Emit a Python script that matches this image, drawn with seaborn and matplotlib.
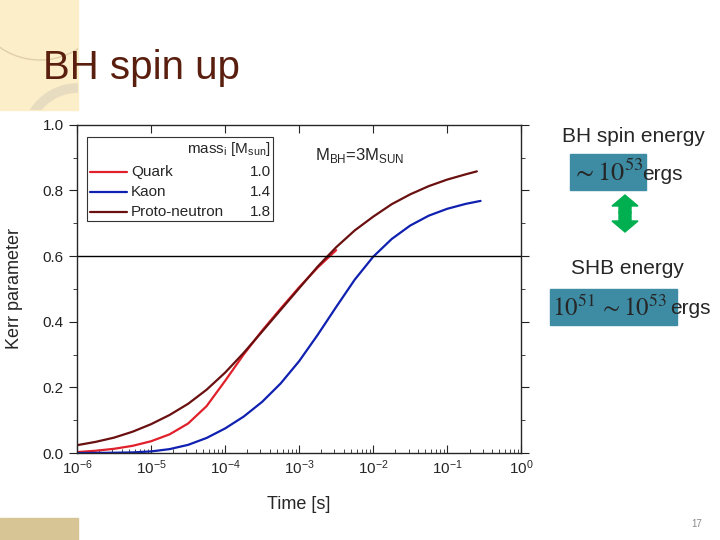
import numpy as np
import pandas as pd
import matplotlib
matplotlib.use("Agg")
import matplotlib.pyplot as plt
import seaborn as sns
from matplotlib.patches import Rectangle, FancyArrow, Circle

# spin-up curves (log10 of time in s, Kerr parameter)
logt_pn = [-6.0, -5.75, -5.5, -5.25, -5.0, -4.75, -4.5, -4.25, -4.0, -3.75, -3.5, -3.25,
           -3.0, -2.75, -2.5, -2.25, -2.0, -1.75, -1.5, -1.25, -1.0, -0.75, -0.6]
kerr_pn = [0.024, 0.034, 0.047, 0.065, 0.088, 0.116, 0.150, 0.193, 0.245, 0.305, 0.370, 0.436,
           0.502, 0.568, 0.627, 0.678, 0.720, 0.758, 0.788, 0.813, 0.833, 0.849, 0.858]

logt_quark = [-6.0, -5.75, -5.5, -5.25, -5.0, -4.75, -4.5, -4.25, -4.0, -3.75, -3.5, -3.25,
              -3.0, -2.75, -2.5]
kerr_quark = [0.003, 0.007, 0.013, 0.022, 0.036, 0.057, 0.090, 0.143, 0.220, 0.300, 0.373, 0.440,
              0.505, 0.565, 0.618]

logt_kaon = [-6.0, -5.5, -5.25, -5.0, -4.75, -4.5, -4.25, -4.0, -3.75, -3.5, -3.25, -3.0,
             -2.75, -2.5, -2.25, -2.0, -1.75, -1.5, -1.25, -1.0, -0.75, -0.55]
kerr_kaon = [0.000, 0.001, 0.002, 0.005, 0.012, 0.025, 0.046, 0.075, 0.111, 0.156, 0.212, 0.280,
             0.360, 0.445, 0.528, 0.598, 0.652, 0.693, 0.723, 0.744, 0.759, 0.768]

models = ["Quark", "Kaon", "Proto-neutron"]
masses = ["1.0", "1.4", "1.8"]
colors = ["#e0202a", "#1020b0", "#6a1010"]

rows = []
for name, lt, k in [("Quark", logt_quark, kerr_quark), ("Kaon", logt_kaon, kerr_kaon),
                    ("Proto-neutron", logt_pn, kerr_pn)]:
    for a, b in zip(lt, k):
        rows.append({"model": name, "time": 10 ** a, "kerr": b})
df = pd.DataFrame(rows)

sns.set_style("ticks")
plt.rcParams['font.family'] = ['Liberation Sans', 'DejaVu Sans']

fig = plt.figure(figsize=(7.2, 5.4), dpi=100)

# slide decoration
deco = fig.add_axes([0, 0, 1, 1], zorder=-5)
deco.set_xlim(0, 720)
deco.set_ylim(540, 0)
deco.axis("off")
bg = Rectangle((0, 0), 78, 110, color="#fbeec8")
deco.add_patch(bg)
c1 = Circle((78, 140), 52, fill=False, lw=7, ec="#e8dcc0")
c2 = Circle((40, -10), 70, fill=False, lw=1, ec="#e0cfa8")
for c in (c1, c2):
    deco.add_patch(c)
    c.set_clip_path(bg)
deco.add_patch(Rectangle((0, 518), 78, 22, color="#d8c596"))
deco.text(43, 68, "BH spin up", fontsize=29, color="#5a1e0e", va="center", ha="left")
deco.text(697, 524, "17", fontsize=7, color="#888888", ha="center", va="center")

# right-hand notes
deco.text(633, 137, "BH spin energy", fontsize=15, ha="center", va="center")
deco.add_patch(Rectangle((570, 154), 76, 36, color="#3e8ca4"))
deco.text(572, 173, r"$\sim 10^{53}$", fontsize=19, math_fontfamily="stix",
          ha="left", va="center")
deco.text(642, 174, "ergs", fontsize=15, ha="left", va="center")
deco.add_patch(FancyArrow(625, 213, 0, -18, width=12, head_width=26, head_length=11,
                          length_includes_head=True, color="#00b050"))
deco.add_patch(FancyArrow(625, 212, 0, 20, width=12, head_width=26, head_length=11,
                          length_includes_head=True, color="#00b050"))
deco.text(627, 269, "SHB energy", fontsize=15, ha="center", va="center")
deco.add_patch(Rectangle((550, 289), 127, 36, color="#3e8ca4"))
deco.text(552, 308, r"$10^{51}\,\sim 10^{53}$", fontsize=18, math_fontfamily="stix",
          ha="left", va="center")
deco.text(670, 309, "ergs", fontsize=15, ha="left", va="center")

ax = fig.add_axes([0.107, 0.161, 0.617, 0.608])
sns.lineplot(data=df, x="time", y="kerr", hue="model", hue_order=models,
             palette=colors, lw=1.6, legend=False, ax=ax)
ax.axhline(0.6, color="black", lw=1)

ax.set_xscale("log")
ax.set_xlim(1e-6, 1)
ax.set_ylim(0, 1.0)
ax.set_yticks([0, 0.2, 0.4, 0.6, 0.8, 1.0])
ax.set_yticks(np.arange(0.1, 1.0, 0.2), minor=True)
ax.yaxis.set_major_formatter(matplotlib.ticker.FormatStrFormatter("%.1f"))
ax.set_xticks([1e-6, 1e-5, 1e-4, 1e-3, 1e-2, 1e-1, 1])
ax.set_xticklabels([r"$\mathregular{10^{-6}}$", r"$\mathregular{10^{-5}}$",
                    r"$\mathregular{10^{-4}}$", r"$\mathregular{10^{-3}}$",
                    r"$\mathregular{10^{-2}}$", r"$\mathregular{10^{-1}}$",
                    r"$\mathregular{10^{0}}$"])
ax.tick_params(axis="y", which="both", direction="out", labelsize=11, colors="#222222")
ax.tick_params(axis="x", which="both", direction="in", labelsize=11)
ax.tick_params(axis="x", which="major", top=True)
ax.tick_params(axis="y", which="both", right=True)
ax.tick_params(which="major", length=6)
ax.tick_params(which="minor", length=3)
for s in ax.spines.values():
    s.set_linewidth(1)
ax.set_xlabel("Time [s]", fontsize=13, labelpad=14)
ax.set_ylabel("Kerr parameter", fontsize=13, labelpad=14)

# legend box with mass column
ax.add_patch(Rectangle((0.0225, 0.707), 0.4185, 0.256, transform=ax.transAxes,
                       fill=False, lw=0.8, ec="#333333"))
ax.text(0.435, 0.927, r"mass$_\mathregular{i}$ [M$_\mathregular{sun}$]", transform=ax.transAxes,
        ha="right", va="center", fontsize=11)
for i, (name, m, c) in enumerate(zip(models, masses, colors)):
    yy = 0.857 - i * 0.061
    ax.plot([0.029, 0.113], [yy, yy], color=c, lw=1.6, transform=ax.transAxes)
    ax.text(0.122, yy, name, transform=ax.transAxes, ha="left", va="center", fontsize=11)
    ax.text(0.437, yy, m, transform=ax.transAxes, ha="right", va="center", fontsize=11)

ax.text(0.535, 0.905, r"M$_\mathregular{BH}$=3M$_\mathregular{SUN}$", transform=ax.transAxes,
        ha="left", va="center", fontsize=12)

plt.savefig("out.png", dpi=100)
